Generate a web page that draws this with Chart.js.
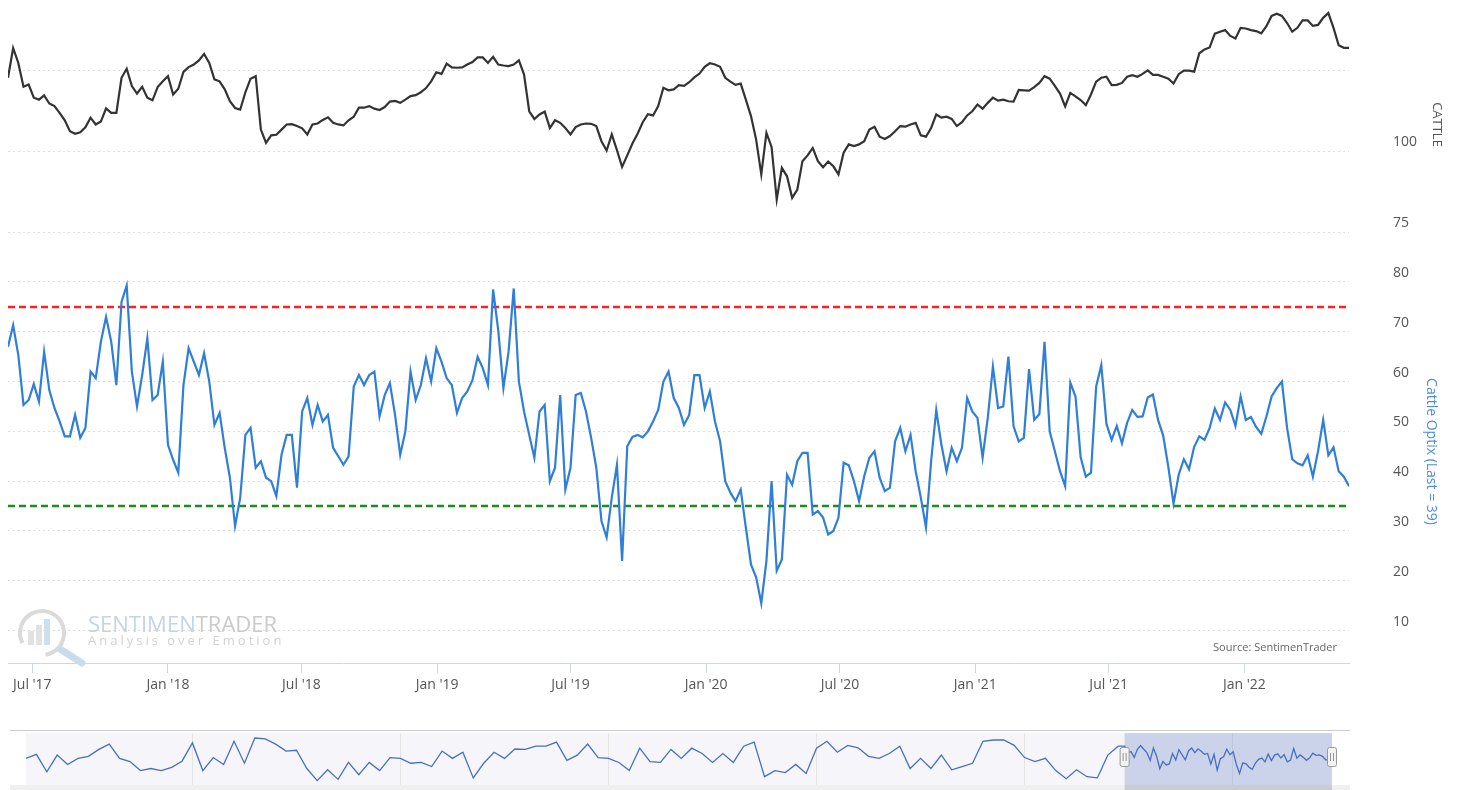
<!DOCTYPE html>
<html>
<head>
<meta charset="utf-8">
<script src="https://cdn.jsdelivr.net/npm/chart.js@4.4.0/dist/chart.umd.min.js"></script>
<style>
  html, body { margin: 0; padding: 0; background: #fff; }
  #wrap { position: relative; width: 1475px; height: 790px; overflow: hidden; }
  #main { position: absolute; left: 0; top: 0; }
  #nav { position: absolute; left: 0; top: 700px; }
</style>
</head>
<body>
<div id="wrap">
  <canvas id="main" width="1475" height="700"></canvas>
  <canvas id="nav" width="1475" height="90"></canvas>
</div>
<script>
// --- data (weekly) ---
const weekStart = '2017-05-29';

const cattlePrice = [
  122.9, 132.1, 127.5, 120.1, 120.8, 116.7, 116.1, 117.4, 114.9, 114.1,
  112.0, 109.7, 106.3, 105.5, 106.0, 107.5, 110.5, 108.4, 109.3, 113.4,
  112.0, 112.0, 122.9, 125.7, 120.3, 118.0, 120.1, 116.7, 115.9, 120.0,
  121.8, 123.4, 117.7, 119.5, 124.7, 126.2, 127.0, 128.3, 130.3, 127.5,
  122.4, 121.8, 119.3, 115.6, 113.5, 113.0, 118.4, 122.6, 123.4, 106.8,
  102.7, 105.0, 105.2, 106.8, 108.4, 108.5, 107.9, 107.2, 105.3, 108.4,
  108.7, 109.8, 110.6, 108.9, 108.4, 108.1, 109.7, 110.8, 113.6, 113.6,
  114.1, 113.3, 112.9, 113.8, 115.5, 115.7, 115.1, 116.1, 117.2, 117.5,
  118.4, 119.7, 121.8, 124.6, 124.1, 127.3, 126.1, 126.0, 126.1, 127.0,
  127.8, 129.2, 129.2, 127.5, 129.4, 127.0, 126.7, 126.5, 127.0, 128.3,
  123.9, 112.5, 110.1, 111.5, 112.4, 107.3, 109.7, 108.9, 107.3, 105.3,
  107.6, 108.4, 108.7, 108.6, 107.9, 103.2, 100.3, 105.3, 100.4, 95.2,
  98.8, 102.5, 105.5, 109.1, 111.6, 111.2, 114.1, 119.8, 119.0, 119.3,
  120.6, 120.4, 121.5, 123.0, 124.2, 126.3, 127.4, 127.0, 126.3, 122.9,
  121.7, 120.7, 121.1, 116.1, 111.0, 103.7, 92.9, 105.8, 101.4, 85.1,
  94.9, 92.3, 85.6, 88.2, 97.0, 98.8, 101.1, 97.0, 95.1, 96.9,
  95.4, 92.9, 99.6, 102.2, 101.7, 102.2, 103.2, 106.8, 107.7, 104.6,
  103.9, 104.8, 106.3, 107.9, 107.7, 108.4, 108.9, 105.0, 104.6, 107.3,
  111.5, 110.5, 110.8, 110.1, 107.9, 109.1, 111.2, 112.5, 114.6, 113.3,
  115.1, 116.7, 115.8, 116.1, 115.6, 115.5, 119.1, 119.0, 118.9, 120.0,
  121.3, 123.4, 122.6, 120.4, 118.0, 114.0, 118.2, 117.1, 116.0, 114.4,
  117.7, 121.7, 122.9, 123.2, 120.6, 120.7, 121.3, 123.2, 123.7, 123.2,
  124.1, 125.2, 123.8, 123.8, 123.2, 122.6, 121.1, 124.0, 125.1, 125.1,
  124.8, 130.5, 131.7, 132.3, 136.6, 137.2, 137.7, 135.9, 135.1, 138.4,
  138.2, 137.7, 137.4, 136.7, 138.9, 142.1, 142.8, 142.1, 139.9, 137.2,
  138.4, 140.7, 140.7, 139.0, 139.3, 141.5, 143.0, 138.4, 133.0, 132.2,
  132.2
];

const cattleOptix = [
  67.0, 71.3, 65.3, 55.3, 56.3, 59.5, 56.0, 66.0, 58.3, 54.7,
  52.0, 49.0, 49.0, 53.3, 48.7, 50.7, 62.0, 60.7, 68.0, 73.0,
  68.0, 59.3, 76.0, 79.3, 62.0, 55.0, 61.3, 68.7, 56.3, 57.3,
  64.0, 47.3, 44.3, 41.7, 59.3, 66.7, 64.0, 61.3, 65.7, 60.0,
  51.3, 53.7, 46.7, 40.7, 31.0, 36.7, 49.3, 50.7, 42.7, 44.0,
  40.7, 40.0, 37.0, 45.3, 49.3, 49.3, 38.7, 54.0, 56.7, 51.3,
  55.3, 52.0, 53.3, 46.7, 45.0, 43.3, 45.0, 59.0, 61.3, 59.3,
  61.3, 62.0, 53.0, 57.3, 59.7, 53.3, 45.3, 50.0, 62.0, 56.3,
  59.3, 64.7, 60.0, 66.7, 64.0, 60.7, 59.3, 53.7, 56.7, 58.0,
  60.3, 65.0, 62.7, 59.3, 78.5, 70.3, 58.7, 66.0, 78.7, 60.0,
  54.0, 49.3, 44.7, 54.0, 55.3, 40.0, 42.7, 57.3, 38.3, 42.7,
  57.3, 57.7, 54.0, 48.7, 42.7, 32.0, 28.7, 36.7, 43.3, 24.0,
  47.0, 48.9, 49.3, 48.8, 50.0, 52.0, 54.3, 60.0, 62.0, 56.7,
  54.7, 51.3, 53.3, 61.3, 61.3, 54.7, 58.0, 52.0, 48.0, 40.0,
  37.7, 36.0, 38.3, 30.7, 23.3, 20.7, 15.5, 24.0, 40.0, 22.0,
  24.3, 41.3, 39.3, 44.0, 45.7, 45.7, 33.3, 34.0, 32.7, 29.3,
  30.0, 32.7, 43.7, 43.2, 40.0, 36.0, 41.0, 44.7, 46.0, 40.7,
  38.0, 38.7, 48.0, 50.7, 46.0, 49.3, 42.0, 36.7, 30.7, 44.0,
  54.3, 47.3, 42.0, 46.7, 44.0, 46.7, 56.7, 54.0, 52.7, 44.7,
  52.7, 63.0, 54.7, 55.0, 65.0, 51.0, 48.0, 48.7, 62.5, 52.3,
  53.5, 68.0, 50.0, 46.0, 42.0, 39.0, 59.8, 57.0, 44.8, 40.9,
  41.7, 59.0, 63.3, 51.5, 48.3, 51.1, 47.6, 51.7, 54.3, 52.9,
  53.0, 56.8, 57.4, 52.3, 49.1, 42.8, 35.5, 41.3, 44.4, 42.4,
  46.9, 49.0, 48.3, 50.7, 54.6, 52.3, 55.8, 54.3, 51.1, 57.0,
  52.3, 52.9, 50.9, 49.5, 53.0, 57.0, 58.7, 60.0, 50.7, 44.4,
  43.6, 43.2, 45.2, 40.9, 46.0, 52.3, 45.2, 46.8, 42.0, 40.9,
  39.0
];

const upperBand = 75;
const lowerBand = 35;

const xTickDates = ['2017-07-01', '2018-01-01', '2018-07-01', '2019-01-01', '2019-07-01',
                    '2020-01-01', '2020-07-01', '2021-01-01', '2021-07-01', '2022-01-01'];
const xTickLabels = ["Jul '17", "Jan '18", "Jul '18", "Jan '19", "Jul '19",
                     "Jan '20", "Jul '20", "Jan '21", "Jul '21", "Jan '22"];

const cattleTicks = [75, 100, 125];
const cattleTickLabels = ['75', '100', ''];
const optixTicks = [10, 20, 30, 40, 50, 60, 70, 80];

// navigator: quarterly history of the indicator from 1991 until the zoomed window
const navStartYear = 1991;
const navEarlyOptix = [
  47.5, 54.0, 26.0, 52.7, 37.8, 47.5, 50.8, 61.8, 70.3, 47.5,
  42.3, 28.0, 31.3, 28.0, 33.2, 43.0, 72.2, 28.0, 48.8, 37.8,
  74.8, 39.7, 80.0, 78.7, 70.3, 59.2, 60.5, 31.3, 12.0, 29.3,
  14.0, 41.0, 21.5, 41.0, 28.0, 48.8, 47.5, 39.7, 41.0, 34.5,
  59.2, 47.5, 57.3, 16.3, 39.7, 57.3, 47.5, 62.5, 61.8, 67.0,
  67.0, 73.5, 44.3, 52.7, 70.3, 48.8, 47.5, 41.0, 28.0, 63.8,
  42.3, 41.0, 61.8, 47.5, 63.8, 55.3, 41.0, 55.3, 41.0, 67.0,
  73.5, 18.3, 28.0, 24.8, 37.8, 23.3, 63.8, 74.8, 57.3, 68.3,
  64.4, 50.8, 47.5, 55.3, 67.0, 31.3, 47.5, 31.3, 52.7, 29.3,
  34.5, 39.7, 74.8, 76.8, 76.8, 68.3, 48.8, 42.3, 47.5, 28.0,
  15.0, 29.3, 18.3, 16.3, 52.7, 67.0
];
const navYearTicks = [1995, 2000, 2005, 2010, 2015, 2020];

// --- helpers ---
function parseDay(s) {
  const [y, m, d] = s.split('-').map(Number);
  return new Date(Date.UTC(y, m - 1, d));
}
function decYear(date) {
  const y = date.getUTCFullYear();
  const s = Date.UTC(y, 0, 1), e = Date.UTC(y + 1, 0, 1);
  return y + (date.getTime() - s) / (e - s);
}
const startMs = parseDay(weekStart).getTime();
function weekX(i) {
  return decYear(new Date(startMs + i * 7 * 86400000));
}

const xMin = weekX(0);
const xMax = weekX(cattleOptix.length - 1);
const xTickValues = xTickDates.map(d => decYear(parseDay(d)));

Chart.defaults.font.family = '"Open Sans", sans-serif';
Chart.defaults.animation = false;

// watermark + source note
const brandPlugin = {
  id: 'brand',
  beforeDatasetsDraw(chart) {
    const { ctx, chartArea } = chart;
    const cx = chartArea.left + 34, cy = chartArea.bottom - 30;
    ctx.save();
    // logo ring
    ctx.strokeStyle = '#dadada';
    ctx.lineWidth = 4;
    ctx.beginPath();
    ctx.arc(cx, cy, 22, Math.PI * 0.85, Math.PI * 2.45);
    ctx.stroke();
    // bars
    ctx.fillStyle = '#e2e2e2';
    ctx.fillRect(cx - 14, cy - 2, 6, 14);
    ctx.fillRect(cx - 6, cy - 8, 6, 20);
    ctx.fillStyle = '#cfdeec';
    ctx.fillRect(cx + 2, cy - 14, 6, 26);
    // magnifier handle
    ctx.strokeStyle = '#cadcec';
    ctx.lineWidth = 7;
    ctx.lineCap = 'round';
    ctx.beginPath();
    ctx.moveTo(cx + 18, cy + 16);
    ctx.lineTo(cx + 40, cy + 30);
    ctx.stroke();
    // brand text
    ctx.textBaseline = 'alphabetic';
    ctx.font = '22px "Open Sans", sans-serif';
    ctx.fillStyle = '#c3d4e6';
    ctx.fillText('SENTIMEN', chartArea.left + 80, chartArea.bottom - 31);
    const w = ctx.measureText('SENTIMEN').width;
    ctx.fillStyle = '#cacaca';
    ctx.fillText('TRADER', chartArea.left + 80 + w, chartArea.bottom - 31);
    ctx.font = '13px "Open Sans", sans-serif';
    ctx.letterSpacing = '3px';
    ctx.fillStyle = '#d2d2d2';
    ctx.fillText('Analysis over Emotion', chartArea.left + 80, chartArea.bottom - 18);
    ctx.restore();
  },
  afterDraw(chart) {
    const { ctx, chartArea } = chart;
    ctx.save();
    ctx.font = '11px "Open Sans", sans-serif';
    ctx.fillStyle = '#666666';
    ctx.textAlign = 'right';
    ctx.textBaseline = 'middle';
    ctx.fillText('Source: SentimenTrader', chartArea.right - 12, chartArea.bottom - 15);
    ctx.restore();
  }
};

const gridDash = { display: false, dash: [2, 3] };

const mainChart = new Chart(document.getElementById('main'), {
  type: 'line',
  data: {
    datasets: [
      {
        label: 'Cattle Optix',
        data: cattleOptix.map((v, i) => ({ x: weekX(i), y: v })),
        yAxisID: 'y2',
        borderColor: '#2f7ed8',
        borderWidth: 2.2,
        pointRadius: 0,
        tension: 0
      },
      {
        label: 'Cattle',
        data: cattlePrice.map((v, i) => ({ x: weekX(i), y: v })),
        yAxisID: 'y1',
        borderColor: '#333333',
        borderWidth: 2.2,
        pointRadius: 0,
        tension: 0
      },
      {
        label: 'Upper',
        data: [{ x: xMin, y: upperBand }, { x: xMax, y: upperBand }],
        yAxisID: 'y2',
        borderColor: '#ff2020',
        borderWidth: 2.5,
        borderDash: [7, 4],
        pointRadius: 0
      },
      {
        label: 'Lower',
        data: [{ x: xMin, y: lowerBand }, { x: xMax, y: lowerBand }],
        yAxisID: 'y2',
        borderColor: '#1e8c1e',
        borderWidth: 2.5,
        borderDash: [7, 4],
        pointRadius: 0
      }
    ]
  },
  options: {
    responsive: false,
    devicePixelRatio: 1,
    layout: { padding: { left: 8, right: 20, top: 9, bottom: 2 } },
    plugins: { legend: { display: false }, tooltip: { enabled: false } },
    scales: {
      x: {
        type: 'linear',
        min: xMin,
        max: xMax,
        afterBuildTicks: s => { s.ticks = xTickValues.map(v => ({ value: v })); },
        afterFit: s => { s.height = 35; },
        ticks: {
          autoSkip: false,
          maxRotation: 0,
          padding: 4,
          color: '#555555',
          font: { size: 14 },
          callback: (v, i) => xTickLabels[i]
        },
        grid: { drawOnChartArea: false, drawTicks: true, tickLength: 10, color: '#ccd6eb' },
        border: { display: true, color: '#ccd6eb' }
      },
      y1: {
        type: 'linear',
        position: 'right',
        stack: 'panes',
        stackWeight: 231,
        min: 72.52,
        max: 144.25,
        afterBuildTicks: s => { s.ticks = cattleTicks.map(v => ({ value: v })); },
        afterFit: s => { s.width = 106; },
        ticks: {
          padding: 0,
          labelOffset: -9,
          color: '#555555',
          font: { size: 14 },
          callback: (v, i) => cattleTickLabels[i]
        },
        grid: { color: '#dedede', drawTicks: true, tickLength: 44, tickColor: 'rgba(0,0,0,0)' },
        border: gridDash,
        title: {
          display: true,
          text: 'CATTLE',
          color: '#555555',
          font: { size: 13 },
          padding: { top: 10, bottom: 0 }
        }
      },
      y2: {
        type: 'linear',
        position: 'right',
        stack: 'panes',
        stackWeight: 423,
        min: 3.49,
        max: 88.43,
        afterBuildTicks: s => { s.ticks = optixTicks.map(v => ({ value: v })); },
        afterFit: s => { s.width = 106; },
        ticks: {
          padding: 0,
          labelOffset: -9,
          color: '#555555',
          font: { size: 14 },
          callback: v => String(v)
        },
        grid: { color: '#dedede', drawTicks: true, tickLength: 44, tickColor: 'rgba(0,0,0,0)' },
        border: gridDash,
        title: {
          display: true,
          text: 'Cattle Optix (Last = 39)',
          color: '#4d8ce0',
          font: { size: 14 },
          padding: { top: 16, bottom: 0 }
        }
      }
    }
  },
  plugins: [brandPlugin]
});

// --- navigator below the main chart ---
// early history is quarterly; the zoomed window is shown at 4-week steps of the main series
const navData = navEarlyOptix.map((v, k) => ({ x: navStartYear + k * 0.25, y: v }))
  .concat(cattleOptix.map((v, i) => ({ x: weekX(i), y: v })).filter((p, i) => i % 4 === 0));

const navPlugin = {
  id: 'navDecor',
  beforeDraw(chart) {
    const { ctx, chartArea: a } = chart;
    ctx.save();
    ctx.fillStyle = '#f5f5fa';
    ctx.fillRect(a.left, a.top, a.right - a.left, a.bottom - a.top);
    ctx.restore();
  },
  beforeDatasetsDraw(chart) {
    const { ctx, chartArea: a, scales } = chart;
    const s0 = scales.x.getPixelForValue(xMin), s1 = scales.x.getPixelForValue(xMax);
    ctx.save();
    ctx.fillStyle = 'rgba(102,133,194,0.3)';
    ctx.fillRect(s0, a.top, s1 - s0, a.bottom - a.top);
    ctx.restore();
  },
  afterDraw(chart) {
    const { ctx, chartArea: a, scales } = chart;
    const s0 = scales.x.getPixelForValue(xMin), s1 = scales.x.getPixelForValue(xMax);
    ctx.save();
    // outline
    ctx.strokeStyle = '#cccccc';
    ctx.lineWidth = 1;
    ctx.beginPath();
    ctx.moveTo(a.left - 16, a.top - 2.5);
    ctx.lineTo(a.right + 18, a.top - 2.5);
    ctx.stroke();
    // scrollbar
    ctx.fillStyle = '#f0f0f0';
    ctx.fillRect(a.left - 16, a.bottom, a.right - a.left + 34, 5);
    ctx.fillStyle = '#cccccc';
    ctx.fillRect(s0, a.bottom, s1 - s0, 5);
    // handles
    const my = (a.top + a.bottom) / 2 - 2;
    [s0, s1].forEach(hx => {
      ctx.fillStyle = '#f2f2f2';
      ctx.strokeStyle = '#999999';
      ctx.lineWidth = 1;
      ctx.beginPath();
      ctx.roundRect(hx - 4.5, my - 9.5, 9, 19, 2);
      ctx.fill();
      ctx.stroke();
      ctx.beginPath();
      ctx.moveTo(hx - 1.5, my - 4); ctx.lineTo(hx - 1.5, my + 4);
      ctx.moveTo(hx + 1.5, my - 4); ctx.lineTo(hx + 1.5, my + 4);
      ctx.stroke();
    });
    ctx.restore();
  }
};

const navChart = new Chart(document.getElementById('nav'), {
  type: 'line',
  data: {
    datasets: [{
      label: 'Navigator',
      data: navData,
      borderColor: '#4a6fbe',
      borderWidth: 1.3,
      pointRadius: 0,
      tension: 0
    }]
  },
  options: {
    responsive: false,
    devicePixelRatio: 1,
    layout: { padding: { left: 26, right: 143, top: 33, bottom: 5 } },
    plugins: { legend: { display: false }, tooltip: { enabled: false } },
    scales: {
      x: {
        type: 'linear',
        min: navStartYear,
        max: xMax,
        afterBuildTicks: s => { s.ticks = navYearTicks.map(v => ({ value: v })); },
        afterFit: s => { s.height = 0; },
        ticks: {
          autoSkip: false,
          maxRotation: 0,
          align: 'start',
          labelOffset: 4,
          padding: -19,
          color: '#a8a8a8',
          font: { size: 14 },
          callback: (v, i) => String(navYearTicks[i])
        },
        grid: { color: '#e4e4e4', drawTicks: false },
        border: { display: false }
      },
      y: {
        display: false,
        min: 5,
        max: 88
      }
    }
  },
  plugins: [navPlugin]
});
</script>
</body>
</html>
